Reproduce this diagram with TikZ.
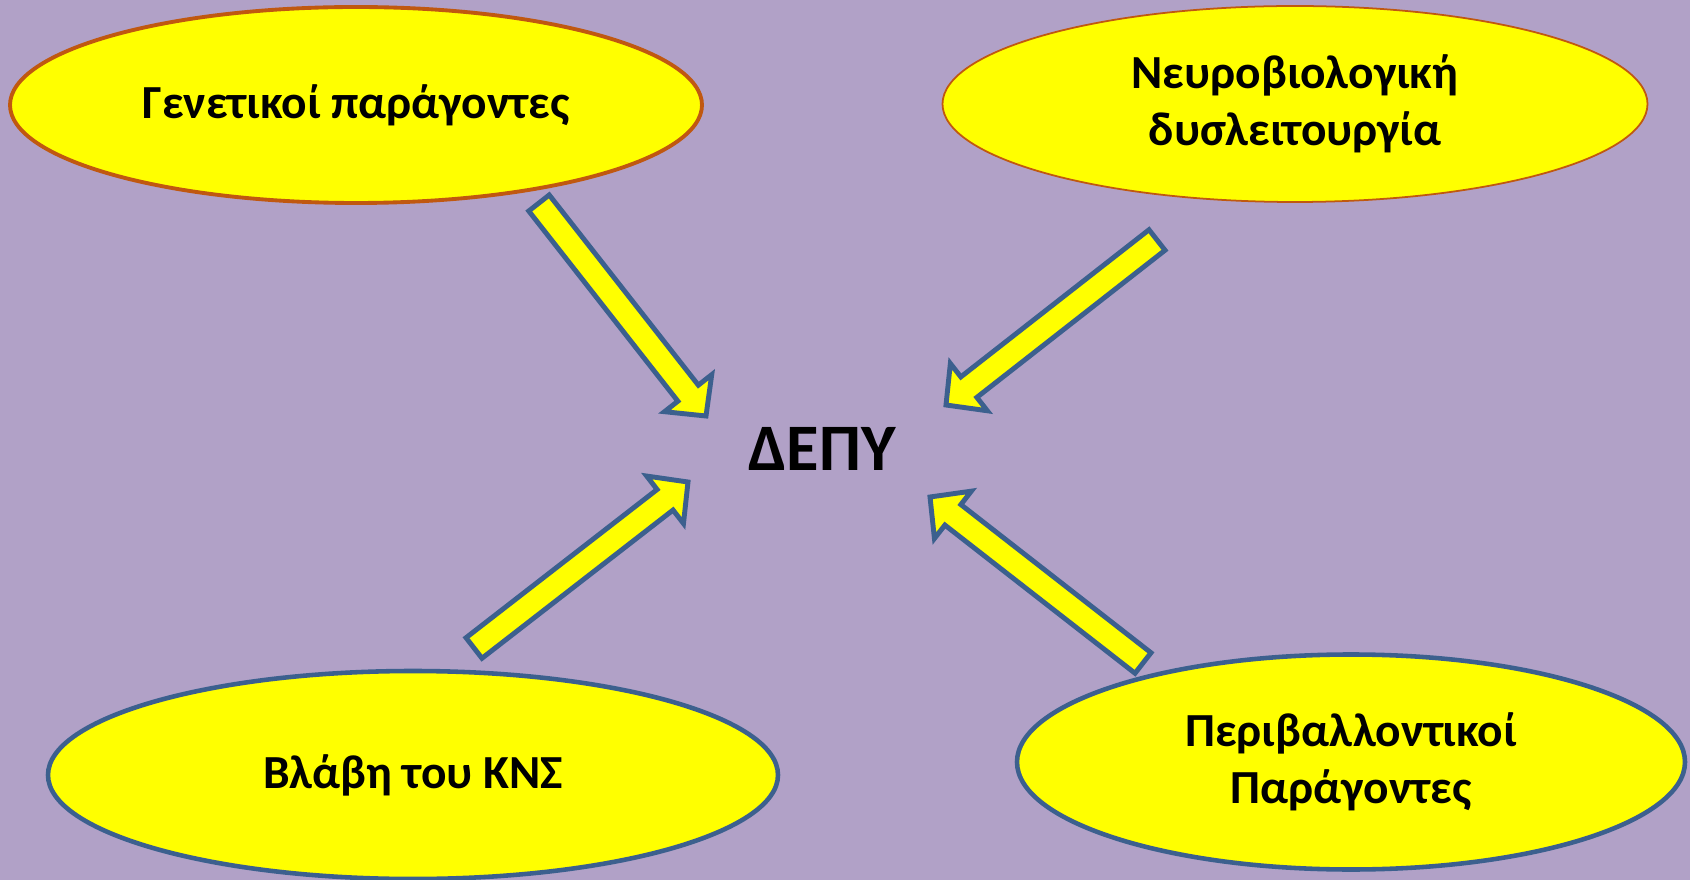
\documentclass[tikz,border=0pt]{standalone}
\usepackage{fontspec}
\setmainfont{Carlito}
\usetikzlibrary{shapes.geometric,calc}

\definecolor{bglilac}{RGB}{177,161,199}
\definecolor{edgeblue}{RGB}{60,96,142}
\definecolor{edgebrown}{RGB}{192,88,16}
\definecolor{fillyellow}{RGB}{255,255,0}

\begin{document}
\begin{tikzpicture}[
    x=0.1mm, y=-0.1mm,
    cause/.style={ellipse, fill=fillyellow, inner sep=0pt, align=center, font=\fontsize{13.5}{16.3}\selectfont\bfseries},
    core/.style={font=\fontsize{18.9}{22}\selectfont\bfseries, inner sep=0pt},
    blockarr/.style={draw=edgeblue, fill=fillyellow, line width=1.4pt, line join=miter}
]

% Background
\fill[bglilac] (0,0) rectangle (1690,880);
\useasboundingbox (0,0) rectangle (1690,880);

% Causes
\node[cause, draw=edgebrown, line width=1.1pt, minimum width=69.2mm, minimum height=19.6mm] (genetic) at (356,105) {Γενετικοί παράγοντες};
\node[cause, draw=edgebrown, line width=0.5pt, minimum width=70.5mm, minimum height=19.6mm] (neuro) at (1295,104) {Νευροβιολογική\\δυσλειτουργία};
\node[cause, draw=edgeblue, line width=1.3pt, minimum width=73mm, minimum height=20.8mm] (cns) at (413,775) {Βλάβη του ΚΝΣ};
\node[cause, draw=edgeblue, line width=1.3pt, minimum width=66.8mm, minimum height=21.5mm] (environ) at (1351,762) {Περιβαλλοντικοί\\Παράγοντες};

% Centre
\node[core] (adhd) at (822,449) {ΔΕΠΥ};

% Arrow ends
\coordinate (genetic-tail) at (539,203);
\coordinate (genetic-tip) at (706,416);
\coordinate (neuro-tail) at (1157,240);
\coordinate (neuro-tip) at (946,405);
\coordinate (cns-tail) at (474,648);
\coordinate (cns-tip) at (688,482);
\coordinate (environ-tail) at (1143,663);
\coordinate (environ-tip) at (930,497);

% Block arrows towards the centre
\foreach \src in {genetic, neuro, cns, environ} {
  \coordinate (hb) at ($(\src-tip)!2.9mm!(\src-tail)$);
  \draw[blockarr] ($(\src-tail)!1.3mm!90:(\src-tip)$) -- ($(hb)!1.3mm!90:(\src-tip)$) -- ($(hb)!3mm!90:(\src-tip)$) -- (\src-tip)
    -- ($(hb)!3mm!-90:(\src-tip)$) -- ($(hb)!1.3mm!-90:(\src-tip)$) -- ($(\src-tail)!1.3mm!-90:(\src-tip)$) -- cycle;
}

\end{tikzpicture}
\end{document}
